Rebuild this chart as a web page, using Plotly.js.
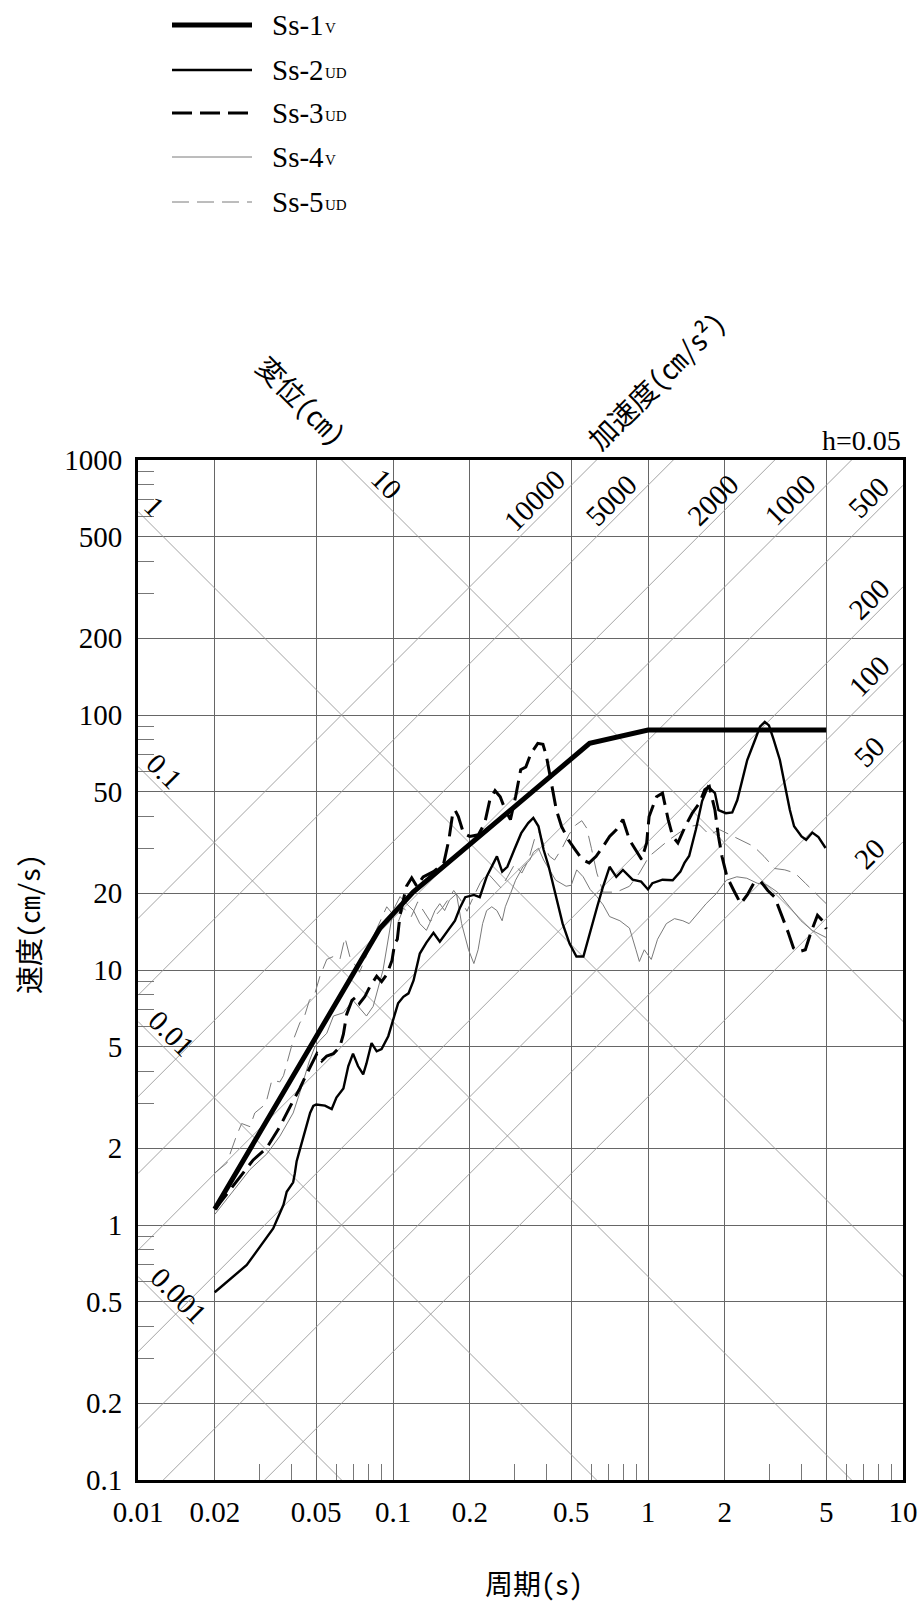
<!DOCTYPE html>
<html><head><meta charset="utf-8">
<script src="https://cdn.plot.ly/plotly-3.0.1.min.js"></script>
<style>html,body{margin:0;padding:0;background:#fff}</style>
</head><body>
<div id="chart" style="width:923px;height:1603px"></div>
<script>
// ---------- axes / ticks ----------
const periodTicks = [0.01,0.02,0.05,0.1,0.2,0.5,1,2,5,10];
const periodTickText = ['0.01','0.02','0.05','0.1','0.2','0.5','1','2','5','10'];
const periodMinor = [0.03,0.04,0.06,0.07,0.08,0.09,0.3,0.4,0.6,0.7,0.8,0.9,3,4,6,7,8,9];
const velTicks = [0.1,0.2,0.5,1,2,5,10,20,50,100,200,500,1000];
const velTickText = ['0.1','0.2','0.5','1','2','5','10','20','50','100','200','500','1000'];
const velMinor = [0.3,0.4,0.6,0.7,0.8,0.9,3,4,6,7,8,9,30,40,60,70,80,90,300,400,600,700,800,900];
// tripartite grid values
const dispValues = [0.001,0.01,0.1,1,10];
const dispText = ['0.001','0.01','0.1','1','10'];
const accValues = [20,50,100,200,500,1000,2000,5000,10000];
const accText = ['20','50','100','200','500','1000','2000','5000','10000'];

// ---------- series ----------
const ss1T = [0.02,0.089,0.12,0.59,1.0,5.0];
const ss1V = [1.155,14.6,20.2,77.4,87.3,87.3];

const ss2T = [0.02,0.0267,0.0339,0.0372,0.0383,0.0406,0.0412,0.0419,0.0431,0.0446,0.0473,0.0487,0.05,0.0541,0.0575,0.06,0.0639,0.0668,0.0697,0.0729,0.0764,0.0787,0.0824,0.0863,0.0902,0.0958,0.1,0.1047,0.1098,0.115,0.1204,0.1241,0.1274,0.1352,0.1441,0.1526,0.1648,0.175,0.1833,0.192,0.2076,0.2189,0.2329,0.244,0.2556,0.268,0.2808,0.2989,0.3183,0.3389,0.355,0.3719,0.3896,0.4082,0.4346,0.4626,0.4924,0.524,0.558,0.594,0.632,0.667,0.707,0.751,0.797,0.87,0.94,1.0,1.04,1.14,1.25,1.34,1.39,1.45,1.54,1.63,1.72,1.83,1.89,2.02,2.14,2.24,2.36,2.45,2.63,2.75,2.87,2.98,3.11,3.29,3.45,3.6,3.74,4.0,4.17,4.41,4.66,4.97];
const ss2V = [0.545,0.697,0.97,1.2,1.35,1.47,1.59,1.78,1.97,2.22,2.75,2.93,2.97,2.94,2.85,3.16,3.43,4.2,4.7,4.2,3.9,4.3,5.17,4.8,4.9,5.5,6.4,7.4,7.85,8.1,9.1,10.3,11.6,12.8,14.0,12.9,14.3,15.6,17.6,19.3,19.7,19.3,23.2,25.4,27.9,24.3,25.4,29.6,34.4,37.7,39.5,36.6,29.6,25.4,19.9,15.2,12.7,11.3,11.3,14.3,17.7,21.3,25.4,23.2,24.7,22.6,22.2,20.7,21.9,22.6,22.5,24.3,26.3,28.0,35.5,46.0,52.4,49.4,42.4,41.2,41.5,46.4,57.4,66.6,80,90,94,91,80,66.6,52.4,42.4,36.6,33.4,32.4,34.6,33.2,30.1];

const ss3T = [0.02,0.0236,0.0283,0.0319,0.036,0.0394,0.0431,0.0458,0.048,0.0503,0.0526,0.055,0.0584,0.0619,0.0639,0.0658,0.069,0.0718,0.0739,0.0775,0.0811,0.0863,0.0902,0.0945,0.0991,0.1015,0.104,0.1066,0.1098,0.1129,0.1184,0.124,0.1313,0.1441,0.1581,0.1657,0.1708,0.1751,0.1804,0.189,0.2,0.2162,0.229,0.2397,0.2513,0.2633,0.2757,0.2888,0.3025,0.3168,0.3318,0.3475,0.3697,0.3873,0.399,0.4174,0.4371,0.458,0.487,0.5186,0.5521,0.588,0.626,0.667,0.707,0.751,0.797,0.846,0.897,0.944,0.988,1.01,1.08,1.14,1.2,1.25,1.31,1.4,1.49,1.59,1.67,1.74,1.83,1.89,1.95,2.04,2.17,2.31,2.45,2.6,2.77,2.95,3.14,3.33,3.55,3.72,3.9,4.14,4.35,4.62,4.84,5.0];
const ss3V = [1.15,1.43,1.8,2.0,2.43,2.9,3.43,3.9,4.3,4.7,4.4,4.6,4.7,5.0,5.6,6.7,7.6,7.85,7.4,7.85,8.6,9.45,9.0,9.6,10.9,12.7,13.2,16.5,18.8,21.3,23.0,21.3,23.2,24.3,26.2,32.5,40,42.4,40,34.4,33.4,33.9,37.7,46.4,50.5,47.8,42.4,38.9,47.8,61,62.5,70.7,77.4,76.7,69.5,54.4,42.4,36.6,32.4,29.6,27.1,26.3,27.9,30.5,33.4,35.5,38.9,32.4,29.6,27.1,31.5,40,47.8,49.4,38.9,33.4,31.5,36.6,41.2,45.1,50.9,52.4,42.4,33.4,27.9,23.2,20.5,18.2,19.7,21.9,22.2,20.5,19.3,16.6,14.0,12.2,11.8,12.0,14.0,16.4,15.6,14.5];

const ss4T = [0.02,0.0236,0.0275,0.032,0.036,0.0406,0.0431,0.047,0.0494,0.0517,0.055,0.0584,0.0639,0.0697,0.0787,0.0836,0.0914,0.1,0.1066,0.113,0.1204,0.1274,0.1352,0.139,0.146,0.1526,0.1594,0.1665,0.1774,0.1858,0.1978,0.2076,0.2156,0.2246,0.2329,0.244,0.2556,0.268,0.2757,0.2888,0.3025,0.3233,0.344,0.3556,0.3719,0.3896,0.408,0.4346,0.4774,0.5,0.5253,0.557,0.593,0.63,0.667,0.707,0.776,0.846,0.897,0.925,0.967,1.03,1.09,1.18,1.27,1.37,1.45,1.57,1.69,1.85,2.03,2.23,2.44,2.68,2.94,3.22,3.58,3.98,4.4,4.82,5.0];
const ss4V = [1.1,1.36,1.65,1.9,2.23,2.75,3.3,4.4,5.0,5.3,5.65,6.6,6.8,7.6,6.6,7.2,10.0,17.1,19.4,18.2,17.1,15.2,14.3,15.2,17.1,18.2,17.1,18.8,19.9,15.2,12.0,10.6,12.0,15.2,17.1,17.7,17.1,15.6,17.7,19.9,22.5,25.4,27.0,29.0,30.0,27.0,25.0,22.5,21.3,21.5,24.7,23.2,20.7,19.4,18.0,16.2,15.6,14.6,12.0,10.8,12.0,11.0,13.2,15.2,15.9,15.6,15.2,16.7,18.2,19.9,22.5,23.2,22.9,21.9,21.5,20.2,17.7,15.6,14.3,13.7,13.4];

const ss5T = [0.02,0.0223,0.0243,0.0255,0.0275,0.0287,0.031,0.032,0.0335,0.036,0.0372,0.0383,0.0406,0.0431,0.045,0.047,0.0494,0.0517,0.055,0.0584,0.0619,0.0648,0.0677,0.0739,0.079,0.085,0.0945,0.1,0.105,0.11,0.118,0.125,0.132,0.14,0.148,0.156,0.165,0.173,0.183,0.195,0.205,0.22,0.235,0.25,0.265,0.28,0.3,0.32,0.34,0.36,0.375,0.39,0.41,0.43,0.46,0.49,0.52,0.55,0.575,0.6,0.63,0.667,0.751,0.846,0.925,1.01,1.11,1.21,1.34,1.47,1.59,1.74,1.91,2.09,2.36,2.6,2.85,3.14,3.44,3.77,4.14,4.55,5.0];
const ss5V = [1.6,1.75,2.23,2.5,2.43,2.75,2.93,3.1,3.7,3.64,3.85,4.3,5.3,6.2,6.6,7.6,8.1,9.45,11.0,11.3,11.0,13.4,11.3,9.8,11.5,14.0,17.7,16.5,15.5,17.5,16.2,18.5,17.0,15.5,16.5,17.5,19.0,20.5,19.0,17.0,19.0,22.0,24.0,22.5,21.0,23.0,26.0,24.0,27.0,33.0,35.0,31.0,28.0,27.0,30.0,34.0,37.0,38.5,36.0,30.0,24.0,20.2,20.2,21.3,24.0,27.9,30.1,32.4,34.8,36.6,37.1,33.9,35.5,33.9,32.0,30.5,27.9,25.0,24.7,24.0,21.9,19.9,18.2];

const seriesBase = ['Ss-1','Ss-2','Ss-3','Ss-4','Ss-5'];
const seriesSub = ['V','UD','UD','V','UD'];

// ---------- styles ----------
const styles = [
  {color:'#000', width:5, dash:'solid'},
  {color:'#000', width:2.4, dash:'solid'},
  {color:'#000', width:3, dash:'20px,8px'},
  {color:'#7a7a7a', width:1, dash:'solid'},
  {color:'#7a7a7a', width:1, dash:'17px,8px'}
];
const W=923, H=1603, M={l:138, r:20, t:460, b:123};
const xR=[-2,1], yR=[-1,3];
const pxDec=(W-M.l-M.r)/(xR[1]-xR[0]);
const plotH=H-M.t-M.b;
const FONT='Liberation Serif';
const CJK='Noto Sans Mono CJK JP, Noto Sans CJK JP';
const NUM=29;
const diagColor='#999999', gridColor='#666666';

const traces=[];
const annotations=[];
const xMin=Math.pow(10,xR[0]), xMax=Math.pow(10,xR[1]), yMin=Math.pow(10,yR[0]), yMax=Math.pow(10,yR[1]);
const TWO_PI=2*Math.PI;

// displacement lines: SV = 2*pi*D/T
dispValues.forEach((D,i)=>{
  const c=TWO_PI*D;
  const t0=Math.max(xMin,c/yMax), t1=Math.min(xMax,c/yMin);
  traces.push({x:[t0,t1], y:[c/t0,c/t1], mode:'lines', line:{color:diagColor,width:0.9}, hoverinfo:'skip', showlegend:false});
  const offs=[40,33,26,16,45][i];
  const lx=Math.log10(t0)+offs/pxDec;
  annotations.push({x:lx, y:Math.log10(c)-lx, xref:'x', yref:'y', xanchor:'center', yanchor:'middle', text:dispText[i], showarrow:false, textangle:45, yshift:21, font:{family:FONT,size:NUM,color:'#000'}});
});
// acceleration lines: SV = A*T/(2*pi)
accValues.forEach((A,i)=>{
  const c=A/TWO_PI;
  const t0=Math.max(xMin,yMin/c), t1=Math.min(xMax,yMax/c);
  traces.push({x:[t0,t1], y:[c*t0,c*t1], mode:'lines', line:{color:diagColor,width:0.9}, hoverinfo:'skip', showlegend:false});
  const atTop = (yMax/c) < xMax;
  const offs = atTop ? 62 : 34;
  const lx=Math.log10(t1)-offs/pxDec;
  annotations.push({x:lx, y:Math.log10(c)+lx, xref:'x', yref:'y', xanchor:'center', yanchor:'middle', text:accText[i], showarrow:false, textangle:-45, yshift:22, font:{family:FONT,size:NUM,color:'#000'}});
});

const data=[[ss5T,ss5V],[ss4T,ss4V],[ss3T,ss3V],[ss2T,ss2V],[ss1T,ss1V]];
const order=[4,3,2,1,0];
data.forEach((d,k)=>{
  const i=order[k], s=styles[i];
  traces.push({x:d[0], y:d[1], mode:'lines', name:seriesBase[i]+seriesSub[i], line:{color:s.color,width:s.width,dash:s.dash,shape:'linear'}, showlegend:false});
});

// custom legend (long line samples as in the reference)
const shapes=[];
const legRows=[25,70,113,157,202];
const pxToPaperX=px=>(px-M.l)/(W-M.l-M.r);
const pxToPaperY=py=>(H-M.b-py)/plotH;
const ctx=document.createElement('canvas').getContext('2d');
ctx.font=NUM+'px "Liberation Serif"';
legRows.forEach((py,i)=>{
  const s=styles[i];
  shapes.push({type:'line', xref:'paper', yref:'paper', x0:pxToPaperX(172), x1:pxToPaperX(252), y0:pxToPaperY(py), y1:pxToPaperY(py), line:{color:s.color,width:s.width,dash:s.dash}});
  const tx=270;
  annotations.push({xref:'paper', yref:'paper', x:pxToPaperX(tx), y:pxToPaperY(py), xanchor:'left', yanchor:'middle', text:seriesBase[i], showarrow:false, font:{family:FONT,size:NUM,color:'#000'}});
  const wMain=ctx.measureText(seriesBase[i]).width;
  annotations.push({xref:'paper', yref:'paper', x:pxToPaperX(tx+wMain+1), y:pxToPaperY(py+3), xanchor:'left', yanchor:'middle', text:seriesSub[i], showarrow:false, font:{family:FONT,size:15,color:'#000'}});
});

// titles
function title(text, px, py, angle, size, fam){
  annotations.push({xref:'paper',yref:'paper',x:pxToPaperX(px),y:pxToPaperY(py),xanchor:'center',yanchor:'middle',text:text,textangle:angle,showarrow:false,font:{family:fam,size:size,color:'#000'}});
}
title('速度(cm/s)', 28, 924, -90, 28, CJK);
title('周期(s)', 534, 1583, 0, 28, CJK);
title('変位(cm)', 302, 400, 45, 28, CJK);
title('加速度(cm/s²)', 656, 380, -45, 28, CJK);
annotations.push({xref:'paper',yref:'paper',x:1,y:pxToPaperY(440),xanchor:'right',yanchor:'middle',text:'h=0.05',showarrow:false,font:{family:FONT,size:28,color:'#000'}});

const axisCommon={type:'log', showline:true, mirror:true, linecolor:'#000', linewidth:3, showgrid:true, gridcolor:gridColor, gridwidth:1, zeroline:false, ticks:'', tickmode:'array', tickfont:{family:FONT,size:NUM,color:'#000'}};

const layout={
  width:W, height:H, margin:M, paper_bgcolor:'#fff', plot_bgcolor:'#fff', showlegend:false,
  font:{family:FONT,size:NUM,color:'#000'},
  xaxis:Object.assign({}, axisCommon, {range:xR, tickvals:periodTicks, ticktext:periodTickText, ticklabelstandoff:4,
    minor:{tickmode:'array', tickvals:periodMinor, ticks:'inside', ticklen:16, tickcolor:'#777', tickwidth:1, showgrid:false}}),
  yaxis:Object.assign({}, axisCommon, {range:yR, tickvals:velTicks, ticktext:velTickText, ticklabelstandoff:7,
    minor:{tickmode:'array', tickvals:velMinor, ticks:'inside', ticklen:16, tickcolor:'#777', tickwidth:1, showgrid:false}}),
  annotations:annotations, shapes:shapes
};
Plotly.newPlot('chart', traces, layout, {staticPlot:true, displayModeBar:false});
</script>
</body></html>
